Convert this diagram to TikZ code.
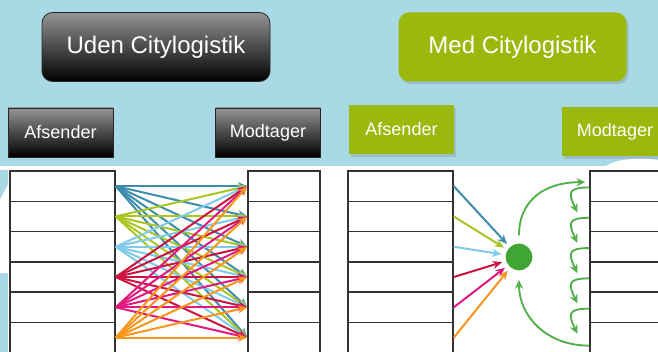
\documentclass[tikz,border=0pt]{standalone}
\usepackage{fontspec}
\setmainfont{Liberation Sans}
\usetikzlibrary{arrows.meta,shadows}

\definecolor{skyblue}{HTML}{A9D9E5}
\definecolor{citygreen}{HTML}{9BB80C}
\definecolor{hubgreen}{HTML}{3FA535}
\definecolor{cteal}{HTML}{3D8DAE}
\definecolor{cyellow}{HTML}{A9C523}
\definecolor{clight}{HTML}{7FCBEA}
\definecolor{ccrimson}{HTML}{CC1440}
\definecolor{cmagenta}{HTML}{E2197F}
\definecolor{corange}{HTML}{F5961D}

\begin{document}
\begin{tikzpicture}[x=0.75pt,y=-0.75pt,line width=0.6pt]
\tikzset{
  darkbox/.style={draw=black!85, top color=black!42, bottom color=black, text=white},
  greenbox/.style={fill=citygreen, text=white,
    drop shadow={opacity=0.3, shadow xshift=1.5pt, shadow yshift=-2pt}},
  head/.style={rounded corners=8pt, minimum width=171pt, minimum height=51.75pt,
    font=\fontsize{18}{20}\selectfont},
  tag/.style={minimum width=78.75pt, minimum height=36.75pt,
    font=\fontsize{13.5}{15}\selectfont},
  row/.style={draw=black!80, line width=1.1pt, fill=white, minimum height=22.7pt},
  flow/.style={-{Stealth[length=7pt,width=6pt]}, line width=1.5pt},
  curl/.style={-{Stealth[length=6.5pt,width=6pt]}, line width=1.4pt, hubgreen!90!white}
}
\clip (0,0) rectangle (658,352);

% background
\fill[skyblue] (0,0) rectangle (658,352);
\fill[white] (0,166) rectangle (658,352);
\fill[white] (606,166) .. controls (616,159) and (640,157) .. (658,160) -- (658,166) -- cycle;
\fill[skyblue] (0,170) -- (8,170) -- (8,184) -- (0,200) -- cycle;
\fill[skyblue] (0,273) rectangle (8,352);

% headings
\draw(156,47) node[darkbox,head] (Uden) {Uden Citylogistik};
\draw(512.5,47) node[greenbox,head] (Med) {Med Citylogistik};

\draw(60.5,132.5) node[darkbox,tag] (AfsA) {Afsender};
\draw(268,132.5) node[darkbox,tag] (ModA) {Modtager};
\draw(401.5,129.5) node[greenbox,tag] (AfsB) {Afsender};
\draw(615,132) node[greenbox,tag,minimum width=79.5pt] (ModB) {Modtager};

% tables
\foreach \i in {1,...,6} {
  \node[row, minimum width=78.75pt] (S\i) at (62.5,{171+30.3*(\i-0.5)}) {};
  \node[row, minimum width=54pt] (T\i) at (284,{171+30.3*(\i-0.5)}) {};
  \node[row, minimum width=78.75pt] (R\i) at (400.5,{171+30.3*(\i-0.5)}) {};
  \node[row, minimum width=60pt] (M\i) at (630,{171+30.3*(\i-0.5)}) {};
}

% without: every sender to every receiver
\foreach \i/\c in {1/cteal,2/cyellow,3/clight,4/ccrimson,5/cmagenta,6/corange}
  \foreach \j in {1,...,6}
    \draw[flow,\c] (S\i.east) -- (T\j.west);

% with: all through one hub
\draw(519,257) node[circle,fill=hubgreen,minimum size=20pt,inner sep=0pt] (Hub) {};
\foreach \i/\c in {1/cteal,2/cyellow,3/clight,4/ccrimson,5/cmagenta,6/corange}
  \draw[flow,\c,shorten >=3pt] (R\i.east) -- (Hub);

\draw[curl,shorten <=6pt,shorten >=3pt] (Hub.north) to[out=90,in=180,looseness=1.2] ([yshift=3pt]M1.west);
\draw[curl,shorten >=7pt] ([yshift=-6pt]M6.west) to[out=180,in=-90,looseness=1.1] (Hub.south);
\foreach \i/\j in {1/2,2/3,3/4,4/5,5/6}
  \draw[curl] ([yshift=-1pt]M\i.west) to[out=180,in=115,looseness=2] ([xshift=-9pt,yshift=3pt]M\j.west);
\end{tikzpicture}
\end{document}
